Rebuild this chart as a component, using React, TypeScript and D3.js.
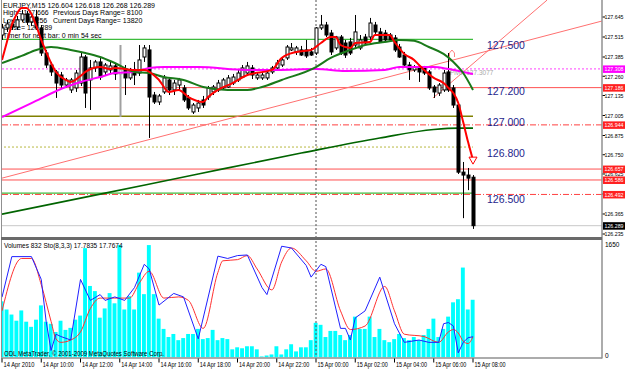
import React from "react";
import * as d3 from "d3";

// ---- data (EURJPY M15, 14 Apr 08:00 .. 15 Apr 08:00) ----
// candles: open, high, low, close
const candles: number[][] = [
  [127.528, 127.600, 127.496, 127.574], [127.574, 127.626, 127.548, 127.600], [127.600, 127.626, 127.561, 127.580],
  [127.580, 127.652, 127.561, 127.626], [127.626, 127.691, 127.613, 127.665], [127.665, 127.684, 127.593, 127.613],
  [127.613, 127.658, 127.587, 127.645], [127.645, 127.691, 127.561, 127.574], [127.574, 127.593, 127.392, 127.411],
  [127.411, 127.431, 127.314, 127.333], [127.333, 127.353, 127.262, 127.288], [127.288, 127.301, 127.119, 127.216],
  [127.268, 127.288, 127.184, 127.203], [127.203, 127.249, 127.184, 127.236], [127.171, 127.249, 127.151, 127.236],
  [127.184, 127.301, 127.158, 127.281], [127.216, 127.418, 127.197, 127.385], [127.385, 127.398, 127.054, 127.151],
  [127.236, 127.366, 127.041, 127.314], [127.314, 127.366, 127.288, 127.353], [127.353, 127.379, 127.236, 127.255],
  [127.288, 127.346, 127.268, 127.333], [127.301, 127.353, 127.281, 127.327], [127.327, 127.346, 127.236, 127.275],
  [127.275, 127.463, 126.995, 127.301], [127.301, 127.333, 127.138, 127.249], [127.249, 127.314, 127.236, 127.301],
  [127.301, 127.353, 127.203, 127.268], [127.281, 127.463, 127.262, 127.366], [127.385, 127.463, 127.353, 127.444],
  [127.431, 127.463, 126.859, 127.125], [127.138, 127.158, 127.080, 127.093], [127.093, 127.145, 127.073, 127.132],
  [127.158, 127.268, 127.145, 127.249], [127.236, 127.255, 127.138, 127.171], [127.171, 127.236, 127.138, 127.216],
  [127.203, 127.249, 127.171, 127.236], [127.184, 127.203, 127.093, 127.106], [127.119, 127.138, 127.041, 127.054],
  [127.028, 127.086, 127.015, 127.073], [127.054, 127.106, 127.028, 127.086], [127.106, 127.132, 127.054, 127.073],
  [127.125, 127.197, 127.106, 127.184], [127.158, 127.203, 127.138, 127.190], [127.171, 127.236, 127.158, 127.216],
  [127.184, 127.249, 127.171, 127.236], [127.190, 127.268, 127.184, 127.249], [127.216, 127.275, 127.203, 127.255],
  [127.236, 127.301, 127.223, 127.281], [127.255, 127.333, 127.249, 127.314], [127.281, 127.353, 127.268, 127.327],
  [127.314, 127.333, 127.242, 127.268], [127.249, 127.281, 127.236, 127.268], [127.249, 127.288, 127.236, 127.268],
  [127.249, 127.301, 127.236, 127.281], [127.288, 127.327, 127.275, 127.314], [127.314, 127.366, 127.301, 127.346],
  [127.333, 127.379, 127.320, 127.366], [127.379, 127.463, 127.366, 127.450], [127.431, 127.476, 127.424, 127.444],
  [127.418, 127.457, 127.398, 127.444], [127.431, 127.457, 127.392, 127.398], [127.431, 127.496, 127.379, 127.392],
  [127.418, 127.444, 127.392, 127.398], [127.411, 127.580, 127.398, 127.574], [127.574, 127.658, 127.561, 127.593],
  [127.593, 127.613, 127.515, 127.528], [127.541, 127.561, 127.398, 127.418], [127.444, 127.522, 127.431, 127.515],
  [127.515, 127.528, 127.398, 127.411], [127.476, 127.496, 127.379, 127.398], [127.483, 127.509, 127.398, 127.411],
  [127.463, 127.658, 127.444, 127.548], [127.444, 127.528, 127.431, 127.496], [127.515, 127.535, 127.463, 127.476],
  [127.515, 127.639, 127.496, 127.606], [127.593, 127.613, 127.535, 127.548], [127.548, 127.574, 127.476, 127.483],
  [127.541, 127.561, 127.483, 127.496], [127.528, 127.541, 127.483, 127.496], [127.509, 127.528, 127.418, 127.431],
  [127.450, 127.470, 127.379, 127.385], [127.398, 127.418, 127.327, 127.333], [127.333, 127.353, 127.236, 127.301],
  [127.301, 127.333, 127.288, 127.320], [127.320, 127.333, 127.223, 127.288], [127.314, 127.327, 127.268, 127.281],
  [127.288, 127.301, 127.171, 127.184], [127.190, 127.203, 127.119, 127.158], [127.151, 127.216, 127.132, 127.203],
  [127.171, 127.301, 127.158, 127.281], [127.288, 127.411, 127.158, 127.171], [127.184, 127.203, 127.054, 127.073],
  [127.073, 127.093, 126.625, 126.637], [126.637, 126.703, 126.338, 126.618], [126.618, 126.664, 126.520, 126.598],
  [126.604, 126.618, 126.268, 126.289],
];
const grayBars = [24];

const volumes = [
  810, 692, 619, 530, 678, 516, 442, 545, 751, 516,
  486, 368, 530, 398, 427, 545, 604, 1576, 1031, 957,
  574, 707, 928, 781, 1620, 692, 884, 692, 1223, 913,
  1620, 913, 560, 412, 295, 339, 250, 280, 339, 339,
  412, 265, 280, 398, 250, 280, 265, 118, 147, 133,
  162, 162, 118, 15, 29, 44, 162, 44, 118, 191,
  88, 147, 147, 250, 500, 471, 295, 383, 383, 324,
  250, 324, 589, 412, 412, 589, 295, 412, 250, 221,
  265, 339, 280, 250, 295, 250, 324, 412, 560, 295,
  412, 589, 795, 840, 1296, 692, 832,
];

// moving averages sampled as [bar, price]
const fastMA: [number, number][] = [
  [0, 127.366], [1, 127.483], [2, 127.593], [3, 127.665], [4, 127.704], [5, 127.704], [6, 127.665], [7, 127.587],
  [8, 127.496], [9, 127.418], [10, 127.346], [11, 127.288], [13, 127.236], [14, 127.223], [16, 127.262], [17, 127.288],
  [20, 127.320], [22, 127.307], [23, 127.314], [27, 127.301], [29, 127.301], [32, 127.236], [34, 127.158], [36, 127.171],
  [38, 127.125], [41, 127.093], [42, 127.125], [44, 127.171], [47, 127.216], [50, 127.268], [55, 127.301], [57, 127.379],
  [60, 127.418], [63, 127.431], [65, 127.476], [67, 127.515], [68, 127.515], [69, 127.463], [71, 127.444], [72, 127.476],
  [75, 127.483], [76, 127.528], [79, 127.528], [80, 127.483], [82, 127.405], [84, 127.366], [85, 127.333], [88, 127.249],
  [90, 127.216], [91, 127.184], [92, 127.151], [93, 127.086], [94, 126.962], [95, 126.832], [96, 126.715],
];
const midMA: [number, number][] = [
  [0, 127.346], [4, 127.392], [7, 127.431], [10, 127.450], [14, 127.431], [17, 127.411], [20, 127.385], [23, 127.346],
  [27, 127.288], [30, 127.281], [33, 127.255], [37, 127.236], [41, 127.190], [46, 127.171], [50, 127.171], [53, 127.190],
  [57, 127.236], [64, 127.320], [67, 127.379], [71, 127.431], [74, 127.463], [78, 127.483], [81, 127.496], [84, 127.490],
  [87, 127.450], [90, 127.405], [92, 127.353], [94, 127.281], [96, 127.171],
];
const slowMA: [number, number][] = [
  [0, 126.995], [6, 127.086], [13, 127.190], [16, 127.223], [20, 127.255], [23, 127.281], [27, 127.288], [30, 127.314],
  [33, 127.320], [40, 127.320], [50, 127.301], [56, 127.301], [64, 127.307], [70, 127.294], [78, 127.301], [81, 127.320],
  [88, 127.320], [91, 127.307], [94, 127.288], [96, 127.275],
];
const longMA: [number, number][] = [
  [0, 126.364], [20, 126.494], [40, 126.625], [61, 126.761], [77, 126.859], [88, 126.914], [93, 126.923], [96, 126.923],
];

// stochastic (8,3,3) main / signal, sampled as [bar, value]
const stochK: [number, number][] = [
  [0, 51.8], [2, 86.6], [6, 86.6], [8, 67], [9, 31], [10, 6], [11, 20], [12, 18], [14, 15], [16, 67], [18, 49], [20, 54],
  [21, 49], [23, 52], [25, 49], [27, 60], [29, 80], [30, 76], [32, 45], [35, 55], [37, 52], [40, 16], [44, 87], [46, 85],
  [48, 87.5], [50, 88], [53, 60], [54, 54], [57, 95.5], [59, 94], [62, 79], [63, 69], [65, 80], [66, 78], [69, 25], [70, 25],
  [71, 15], [72, 34], [74, 40], [77, 69], [80, 29], [82, 13], [85, 15], [87, 13], [89, 13], [90, 29], [91, 30], [92, 27],
  [93, 4], [94, 13], [95, 17], [96, 17.8],
];
const stochD: [number, number][] = [
  [0, 40], [4, 85], [6, 85], [8, 62.5], [10, 31], [11, 16], [12, 13], [14, 15], [16, 22], [18, 42], [20, 51], [23, 51],
  [26, 51], [28, 64], [30, 74], [33, 51], [36, 52], [38, 49], [41, 25], [44, 73], [45, 83], [48, 84], [50, 87.5], [52, 76],
  [55, 58], [57, 82], [59, 94], [62, 83], [64, 74], [66, 76], [69, 40], [71, 24], [74, 27], [78, 61], [80, 40], [82, 20],
  [86, 18], [89, 13], [91, 22], [92, 24], [93, 21], [94, 14], [95, 12], [96, 17.8],
];

const priceTicks = [127.645, 127.515, 127.385, 127.26, 127.135, 127.005, 126.875, 126.75, 126.625, 126.495, 126.365, 126.235];
const roundLevels = [127.5, 127.2, 127.0, 126.8, 126.5];
const timeLabels = [
  "14 Apr 2010", "14 Apr 10:00", "14 Apr 12:00", "14 Apr 14:00", "14 Apr 16:00", "14 Apr 18:00", "14 Apr 20:00",
  "14 Apr 22:00", "15 Apr 00:00", "15 Apr 02:00", "15 Apr 04:00", "15 Apr 06:00", "15 Apr 08:00",
];
const pivot = 127.3077;
const redLevels = [127.186, 126.657, 126.586];
const dashLevels = [126.944, 126.492];
const bidPrice = 126.289;
// trend lines [bar, price] -> [bar, price]
const trendLines: [number, number][][] = [
  [[0, 126.598], [122.3, 127.619]],
  [[87.85, 127.119], [111.1, 127.755]],
];
const headerLines = [
  ["EURJPY,M15  126.604 126.618 126.268 126.289", ""],
  ["High= 127.666", "Previous Days Range= 8100"],
  ["Low= 126.256", "Current Days Range= 13820"],
  ["Close= 126.289", ""],
  ["Timer for next bar: 0 min 54 sec", ""],
];

const FONT = "'Liberation Sans', Arial, sans-serif";

export default function App() {
  const plotL = 2, plotR = 602, mainBot = 237, volTop = 241, volBot = 357.5;
  const x = d3.scaleLinear().domain([0, 96]).range([2, 473]);
  const y = d3.scaleLinear().domain([126.235, 127.645]).range([234, 17]);
  const yv = d3.scaleLinear().domain([0, 1650]).range([volBot, volTop + 2]);
  const ys = d3.scaleLinear().domain([0, 100]).range([volBot, volTop]);
  const dataEnd = x(96);
  const fmt = d3.format(".3f");

  const priceLine = d3.line<[number, number]>().x(d => x(d[0])).y(d => y(d[1])).curve(d3.curveMonotoneX);
  const stoLine = d3.line<[number, number]>().x(d => x(d[0])).y(d => ys(d[1]));
  const stoSmooth = d3.line<[number, number]>().x(d => x(d[0])).y(d => ys(d[1])).curve(d3.curveMonotoneX);

  const hline = (p: number, x1: number, x2: number, color: string, extra: any = {}) => (
    <line x1={x1} x2={x2} y1={y(p)} y2={y(p)} stroke={color} {...extra} />
  );
  const tag = (p: number, bg: string, key: string) => (
    <g key={key}>
      <rect x={603} y={y(p) - 3.5} width={22} height={7.5} fill={bg} />
      <text x={604.5} y={y(p) + 2.3} fontSize={6} fill="#fff" textLength={19} lengthAdjust="spacingAndGlyphs">{fmt(p)}</text>
    </g>
  );

  const fastEnd = fastMA[fastMA.length - 1];
  const fx = x(fastEnd[0]), fy = y(fastEnd[1]);

  return (
    <svg width={625} height={370} style={{ position: "absolute", left: 0, top: 0, background: "#fff" }} fontFamily={FONT}>
      <rect width={625} height={370} fill="#fff" />
      <defs>
        <clipPath id="mainClip"><rect x={plotL} y={0} width={plotR - plotL} height={mainBot} /></clipPath>
        <clipPath id="volClip"><rect x={plotL} y={volTop} width={plotR - plotL} height={volBot - volTop} /></clipPath>
      </defs>

      <g clipPath="url(#mainClip)">
        {/* horizontal levels */}
        {hline(127.5, plotL, dataEnd, "#3cbc3c", { strokeWidth: 1.2 })}
        {hline(pivot, plotL, plotR, "#ff40ff", { strokeDasharray: "2,2" })}
        {redLevels.map((p, i) => <g key={"r" + i}>{hline(p, plotL, plotR, "#ff5050")}</g>)}
        {hline(127.0, plotL, dataEnd, "#808000", { strokeWidth: 1.6 })}
        {hline(126.8, plotL + 2, dataEnd, "#b8b840", { strokeDasharray: "2,2" })}
        {hline(126.5, plotL, dataEnd, "#3cbc3c", { strokeWidth: 1.2 })}
        {dashLevels.map((p, i) => <g key={"d" + i}>{hline(p, plotL, plotR, "#ff4040", { strokeDasharray: "6,2,1,2" })}</g>)}
        {hline(bidPrice, plotL, plotR, "#c8c8c8")}
        <line x1={x(64)} x2={x(64)} y1={0} y2={mainBot} stroke="#505050" strokeDasharray="2,2" />

        {/* trend lines */}
        {trendLines.map((t, i) => (
          <line key={"t" + i} x1={x(t[0][0])} y1={y(t[0][1])} x2={x(t[1][0])} y2={y(t[1][1])} stroke="#ff7070" strokeWidth={1} />
        ))}

        {/* round number labels */}
        {roundLevels.map((p, i) => (
          <text key={"rl" + i} x={487} y={y(p) + 10} fontSize={10.5} fill="#1e1e8c">{fmt(p)}</text>
        ))}
        <text x={450} y={75} fontSize={6.5} fill="#a8a8a8">Pivot 127.3077</text>

        {/* header */}
        {headerLines.map((l, i) => (
          <g key={"h" + i}>
            <text x={3} y={7.5 + i * 7.5} fontSize={7} fill="#000"
              textLength={i === 0 ? 152 : undefined} lengthAdjust="spacingAndGlyphs">{l[0]}</text>
            {l[1] && <text x={53} y={7.5 + i * 7.5} fontSize={7} fill="#000">{l[1]}</text>}
          </g>
        ))}

        <path d={priceLine(longMA) || ""} fill="none" stroke="#006400" strokeWidth={1.6} />

        {/* candles */}
        {candles.map((c, i) => {
          const [o, h, l, cl] = c;
          const cx = Math.round(x(i)) + 0.5;
          const gray = grayBars.includes(i);
          const col = gray ? "#a0a0a0" : "#000";
          const top = y(Math.max(o, cl)), bot = y(Math.min(o, cl));
          const bull = cl >= o;
          return (
            <g key={"c" + i}>
              <line x1={cx} x2={cx} y1={y(h)} y2={y(l)} stroke={col} strokeWidth={gray ? 2 : 1} />
              <rect x={cx - 1.5} y={top} width={3} height={Math.max(1, bot - top)}
                fill={bull ? "#fff" : col} stroke={col} strokeWidth={1} />
            </g>
          );
        })}

        {/* moving averages */}
        <path d={priceLine(slowMA) || ""} fill="none" stroke="#ff00ff" strokeWidth={2} />
        <path d={priceLine(midMA) || ""} fill="none" stroke="#1a7a1a" strokeWidth={2} />
        <path d={priceLine(fastMA) || ""} fill="none" stroke="#ff0000" strokeWidth={2} />
        <path d={`M${fx - 4},${fy - 3}L${fx},${fy + 4}L${fx + 4},${fy - 3}Z`} fill="#fff" stroke="#ff0000" strokeWidth={1} />
        <path d={`M${x(91) + 1},${y(127.385)}v-4l2.5,-3l2.5,3v4`} fill="none" stroke="#ff8080" strokeWidth={1} />
      </g>

      {/* price axis */}
      {priceTicks.map((p, i) => (
        <g key={"pt" + i}>
          <line x1={plotR} x2={plotR + 3} y1={y(p)} y2={y(p)} stroke="#000" />
          <text x={604.5} y={y(p) + 2.3} fontSize={6} fill="#000" textLength={19} lengthAdjust="spacingAndGlyphs">{fmt(p)}</text>
        </g>
      ))}
      {tag(pivot, "#ff00ff", "tp")}
      {redLevels.map((p, i) => tag(p, "#ff2020", "tr" + i))}
      {dashLevels.map((p, i) => tag(p, "#ff2020", "td" + i))}
      {tag(bidPrice, "#000000", "tb")}

      {/* volume / stochastic window */}
      <g clipPath="url(#volClip)">
        {volumes.map((v, i) => (
          <rect key={"v" + i} x={x(i) - 2.3} width={3.9} y={yv(v)} height={volBot - yv(v)} fill="#00ffff" />
        ))}
        <line x1={x(64)} x2={x(64)} y1={volTop} y2={volBot} stroke="#505050" strokeDasharray="2,2" />
        <path d={stoSmooth(stochD) || ""} fill="none" stroke="#ff3030" strokeWidth={1} />
        <path d={stoLine(stochK) || ""} fill="none" stroke="#2020ff" strokeWidth={1} />
        <text x={4} y={248} fontSize={6.5} fill="#000">Volumes 832  Sto(8,3,3) 17.7835 17.7674</text>
        <text x={4} y={355.5} fontSize={6.5} fill="#000" textLength={160} lengthAdjust="spacingAndGlyphs">ODL MetaTrader, © 2001-2009 MetaQuotes Software Corp.</text>
      </g>
      <text x={605} y={247} fontSize={6.5} fill="#000">1650</text>
      <text x={605} y={358} fontSize={6.5} fill="#000">0</text>

      {/* frames */}
      <line x1={1.5} x2={1.5} y1={0} y2={volBot} stroke="#909090" />
      <line x1={plotR} x2={plotR} y1={0} y2={volBot + 1} stroke="#909090" strokeWidth={1.5} />
      <rect x={1} y={mainBot} width={plotR - 1} height={3} fill="#6a6a6a" />
      <line x1={1} x2={plotR} y1={volBot + 0.5} y2={volBot + 0.5} stroke="#909090" strokeWidth={1.5} />

      {/* time axis */}
      {timeLabels.map((t, i) => (
        <g key={"tl" + i}>
          <line x1={x(i * 8)} x2={x(i * 8)} y1={volBot + 1} y2={volBot + 5} stroke="#000" />
          <text x={x(i * 8) + 1.5} y={367} fontSize={6.5} fill="#000" textLength={31} lengthAdjust="spacingAndGlyphs">{t}</text>
        </g>
      ))}
    </svg>
  );
}
